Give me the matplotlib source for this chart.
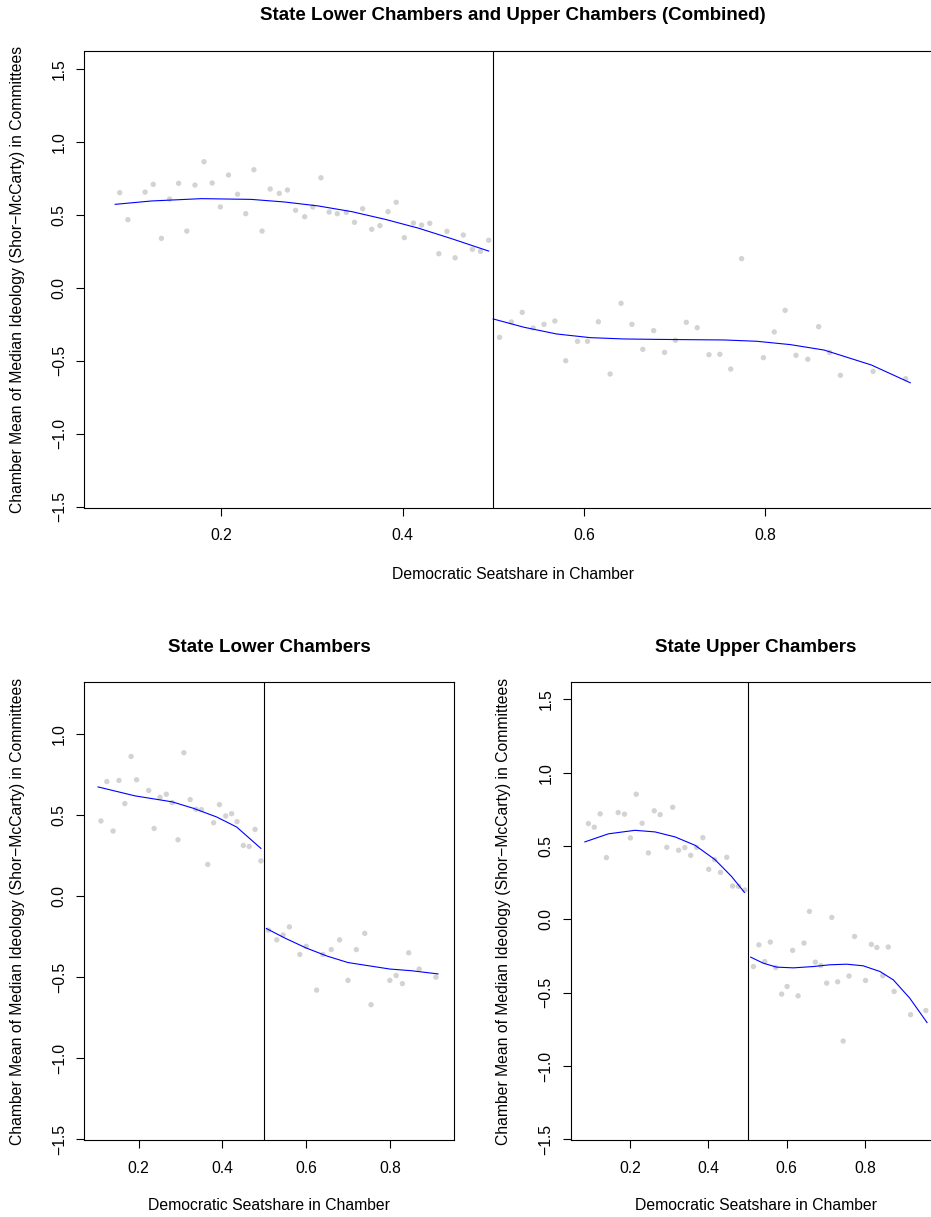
"""Committee ideology vs Democratic seatshare: combined, lower and upper chambers."""

import matplotlib
matplotlib.use("Agg")
from matplotlib import pyplot as plt

plt.rcParams["font.family"] = ["Liberation Sans", "DejaVu Sans"]

# Combined chambers, binned means (left and right of the 0.5 cutoff)
comb_left_x = [0.088, 0.097, 0.116, 0.125, 0.134, 0.143, 0.153, 0.162, 0.171, 0.181,
               0.190, 0.199, 0.208, 0.218, 0.227, 0.236, 0.245, 0.254, 0.264, 0.273,
               0.282, 0.292, 0.301, 0.310, 0.319, 0.328, 0.338, 0.347, 0.356, 0.366,
               0.375, 0.384, 0.393, 0.402, 0.412, 0.421, 0.430, 0.440, 0.449, 0.458,
               0.467, 0.477, 0.486, 0.495]
comb_left_y = [0.651, 0.466, 0.655, 0.708, 0.338, 0.607, 0.715, 0.388, 0.703, 0.863,
               0.717, 0.553, 0.772, 0.640, 0.507, 0.808, 0.388, 0.676, 0.646, 0.669,
               0.530, 0.486, 0.553, 0.753, 0.518, 0.507, 0.516, 0.448, 0.541, 0.400,
               0.425, 0.521, 0.585, 0.343, 0.443, 0.429, 0.441, 0.233, 0.386, 0.205,
               0.361, 0.263, 0.249, 0.325]
comb_right_x = [0.507, 0.520, 0.532, 0.544, 0.556, 0.568, 0.580, 0.593, 0.604, 0.616,
                0.629, 0.641, 0.653, 0.665, 0.677, 0.689, 0.701, 0.713, 0.725, 0.738,
                0.750, 0.762, 0.774, 0.798, 0.810, 0.822, 0.834, 0.847, 0.859, 0.871,
                0.883, 0.919, 0.955]
comb_right_y = [-0.340, -0.235, -0.169, -0.276, -0.251, -0.228, -0.500, -0.367, -0.367, -0.233,
                -0.591, -0.107, -0.251, -0.422, -0.294, -0.443, -0.360, -0.237, -0.274, -0.459,
                -0.456, -0.557, 0.199, -0.479, -0.303, -0.155, -0.463, -0.490, -0.267, -0.443,
                -0.600, -0.573, -0.623]
comb_fit_left_x = [0.083, 0.123, 0.178, 0.233, 0.270, 0.307, 0.344, 0.381, 0.418, 0.454, 0.495]
comb_fit_left_y = [0.571, 0.594, 0.610, 0.605, 0.587, 0.560, 0.521, 0.468, 0.407, 0.336, 0.251]
comb_fit_right_x = [0.500, 0.534, 0.570, 0.607, 0.644, 0.681, 0.718, 0.755, 0.791, 0.828,
                    0.865, 0.917, 0.960]
comb_fit_right_y = [-0.214, -0.271, -0.317, -0.342, -0.351, -0.354, -0.356, -0.358, -0.367, -0.390,
                    -0.427, -0.529, -0.651]

# Lower chambers
low_left_x = [0.110, 0.124, 0.139, 0.153, 0.167, 0.182, 0.195, 0.224, 0.237, 0.251,
              0.266, 0.280, 0.294, 0.308, 0.323, 0.337, 0.350, 0.365, 0.379, 0.393,
              0.408, 0.422, 0.435, 0.450, 0.464, 0.478, 0.492]
low_left_y = [0.463, 0.706, 0.401, 0.713, 0.570, 0.861, 0.717, 0.651, 0.417, 0.609,
              0.628, 0.576, 0.347, 0.884, 0.595, 0.535, 0.533, 0.195, 0.452, 0.564,
              0.494, 0.508, 0.459, 0.312, 0.306, 0.411, 0.217]
low_right_x = [0.510, 0.530, 0.545, 0.560, 0.585, 0.600, 0.625, 0.640, 0.660, 0.680,
               0.700, 0.720, 0.740, 0.755, 0.800, 0.815, 0.830, 0.845, 0.870, 0.910]
low_right_y = [-0.21, -0.27, -0.24, -0.19, -0.36, -0.31, -0.58, -0.36, -0.33, -0.27,
               -0.52, -0.33, -0.23, -0.67, -0.52, -0.49, -0.54, -0.35, -0.45, -0.50]
low_fit_left_x = [0.103, 0.191, 0.280, 0.331, 0.386, 0.434, 0.492]
low_fit_left_y = [0.673, 0.618, 0.581, 0.541, 0.488, 0.426, 0.294]
low_fit_right_x = [0.505, 0.550, 0.600, 0.650, 0.700, 0.750, 0.800, 0.850, 0.915]
low_fit_right_y = [-0.20, -0.26, -0.32, -0.37, -0.41, -0.43, -0.45, -0.46, -0.48]

# Upper chambers
up_left_x = [0.094, 0.109, 0.124, 0.140, 0.170, 0.186, 0.201, 0.216, 0.231, 0.247,
             0.262, 0.277, 0.294, 0.309, 0.324, 0.340, 0.355, 0.370, 0.386, 0.401,
             0.416, 0.431, 0.447, 0.462, 0.477, 0.493]
up_left_y = [0.653, 0.628, 0.719, 0.421, 0.728, 0.717, 0.555, 0.853, 0.655, 0.453,
             0.740, 0.714, 0.491, 0.764, 0.471, 0.489, 0.436, 0.491, 0.557, 0.341,
             0.407, 0.320, 0.423, 0.227, 0.225, 0.200]
up_right_x = [0.515, 0.529, 0.544, 0.558, 0.572, 0.587, 0.601, 0.615, 0.629, 0.644,
              0.658, 0.673, 0.687, 0.702, 0.715, 0.730, 0.744, 0.759, 0.773, 0.801,
              0.816, 0.830, 0.845, 0.859, 0.874, 0.916, 0.955]
up_right_y = [-0.322, -0.174, -0.288, -0.155, -0.329, -0.510, -0.458, -0.212, -0.522, -0.162,
              0.054, -0.292, -0.315, -0.435, 0.013, -0.426, -0.830, -0.387, -0.117, -0.417,
              -0.171, -0.192, -0.385, -0.189, -0.492, -0.650, -0.622]
up_fit_left_x = [0.085, 0.145, 0.213, 0.264, 0.315, 0.366, 0.417, 0.459, 0.492]
up_fit_left_y = [0.528, 0.583, 0.607, 0.596, 0.562, 0.505, 0.407, 0.293, 0.184]
up_fit_right_x = [0.508, 0.540, 0.574, 0.617, 0.668, 0.710, 0.753, 0.795, 0.838, 0.872,
                  0.914, 0.958]
up_fit_right_y = [-0.258, -0.299, -0.326, -0.331, -0.322, -0.310, -0.306, -0.317, -0.356, -0.413,
                  -0.538, -0.704]

xticks = [0.2, 0.4, 0.6, 0.8]
xtick_labels = ["0.2", "0.4", "0.6", "0.8"]
yticks = [-1.5, -1.0, -0.5, 0.0, 0.5, 1.0, 1.5]
ytick_labels = ["\u22121.5", "\u22121.0", "\u22120.5", "0.0", "0.5", "1.0", "1.5"]

XLAB = "Democratic Seatshare in Chamber"
YLAB = "Chamber Mean of Median Ideology (Shor\u2212McCarty) in Committees"
GREY = "#d3d3d3"


def draw_panel(ax, title, left, right, fits, xlim, ylim, nyt, ylab_x, xlab_y):
    ax.scatter(left[0], left[1], s=15, color=GREY, edgecolors="none", zorder=2)
    ax.scatter(right[0], right[1], s=15, color=GREY, edgecolors="none", zorder=2)
    for fx, fy in fits:
        ax.plot(fx, fy, color="blue", lw=0.8, zorder=3)
    ax.axvline(0.5, color="black", lw=0.8, zorder=4)

    ax.set_xlim(*xlim)
    ax.set_ylim(*ylim)
    ax.set_xticks(xticks)
    ax.set_xticklabels(xtick_labels)
    ax.set_yticks(yticks[:nyt])
    ax.set_yticklabels(ytick_labels[:nyt], rotation=90, va="center")
    ax.tick_params(direction="out", length=5.6, width=0.8, labelsize=11.3)
    ax.tick_params(axis="x", pad=9)
    ax.tick_params(axis="y", pad=7)
    for sp in ax.spines.values():
        sp.set_linewidth(0.8)

    ax.set_title(title, fontsize=13.5, fontweight="bold", pad=22)
    ax.set_xlabel(XLAB, fontsize=11.3)
    ax.xaxis.set_label_coords(0.5, xlab_y)
    ax.xaxis.label.set_va("center")
    ax.set_ylabel(YLAB, fontsize=11.3)
    ax.yaxis.set_label_coords(ylab_x, 0.5)
    ax.yaxis.label.set_va("center")


fig = plt.figure(figsize=(9.31, 12.17), dpi=100)

ax_top = fig.add_axes([0.0906, 0.5828, 0.9202, 0.3755])
draw_panel(ax_top, "State Lower Chambers and Upper Chambers (Combined)",
           (comb_left_x, comb_left_y), (comb_right_x, comb_right_y),
           [(comb_fit_left_x, comb_fit_left_y), (comb_fit_right_x, comb_fit_right_y)],
           (0.049, 0.994), (-1.507, 1.623), 7, -0.0777, -0.147)

ax_low = fig.add_axes([0.0906, 0.0629, 0.3974, 0.3763])
draw_panel(ax_low, "State Lower Chambers",
           (low_left_x, low_left_y), (low_right_x, low_right_y),
           [(low_fit_left_x, low_fit_left_y), (low_fit_right_x, low_fit_right_y)],
           (0.0703, 0.954), (-1.507, 1.317), 6, -0.18, -0.143)

ax_up = fig.add_axes([0.6135, 0.0629, 0.3974, 0.3763])
draw_panel(ax_up, "State Upper Chambers",
           (up_left_x, up_left_y), (up_right_x, up_right_y),
           [(up_fit_left_x, up_fit_left_y), (up_fit_right_x, up_fit_right_y)],
           (0.05, 0.994), (-1.508, 1.615), 7, -0.1816, -0.143)

fig.savefig("out.png", dpi=100)
